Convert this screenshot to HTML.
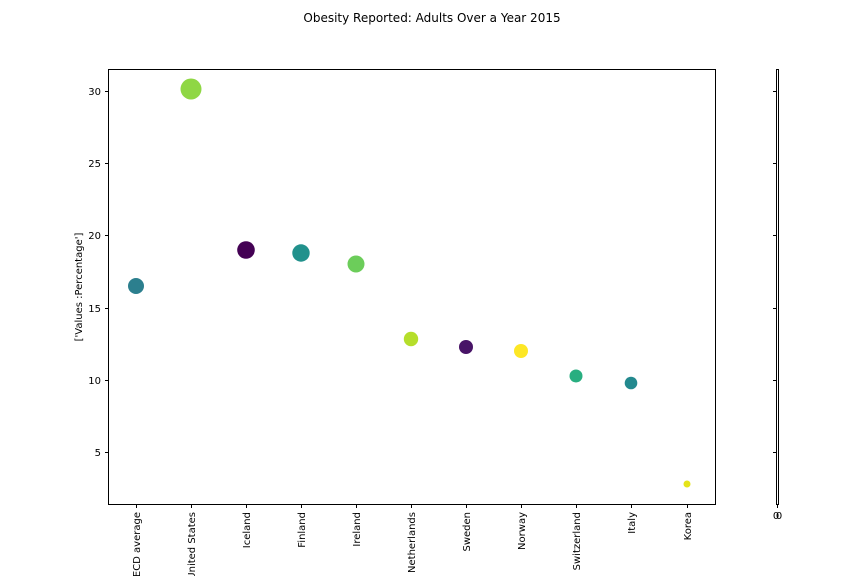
<!DOCTYPE html>
<html><head><meta charset="utf-8"><style>body{margin:0;background:#fff}svg{display:block}text{font-family:"DejaVu Sans","Liberation Sans",sans-serif;fill:#000}</style></head><body>
<svg width="864" height="576" viewBox="0 0 864 576" xmlns="http://www.w3.org/2000/svg">
<rect width="864" height="576" fill="#fff"/>
<text x="432" y="22" font-size="12" text-anchor="middle">Obesity Reported: Adults Over a Year 2015</text>
<rect x="108.5" y="69.5" width="607" height="435" fill="none" stroke="#000" stroke-width="1"/>
<g stroke="#000" stroke-width="1">
<line x1="105" y1="91.5" x2="108" y2="91.5"/><line x1="105" y1="163.5" x2="108" y2="163.5"/><line x1="105" y1="235.5" x2="108" y2="235.5"/><line x1="105" y1="308.5" x2="108" y2="308.5"/><line x1="105" y1="380.5" x2="108" y2="380.5"/><line x1="105" y1="452.5" x2="108" y2="452.5"/>
<line x1="773" y1="91.5" x2="776" y2="91.5"/><line x1="773" y1="163.5" x2="776" y2="163.5"/><line x1="773" y1="235.5" x2="776" y2="235.5"/><line x1="773" y1="308.5" x2="776" y2="308.5"/><line x1="773" y1="380.5" x2="776" y2="380.5"/><line x1="773" y1="452.5" x2="776" y2="452.5"/>
<line x1="777.5" y1="505" x2="777.5" y2="508"/>
</g>
<g stroke="#000" stroke-width="1">
<line x1="136.5" y1="505" x2="136.5" y2="508"/><line x1="191.5" y1="505" x2="191.5" y2="508"/><line x1="246.5" y1="505" x2="246.5" y2="508"/><line x1="301.5" y1="505" x2="301.5" y2="508"/><line x1="356.5" y1="505" x2="356.5" y2="508"/><line x1="411.5" y1="505" x2="411.5" y2="508"/><line x1="466.5" y1="505" x2="466.5" y2="508"/><line x1="521.5" y1="505" x2="521.5" y2="508"/><line x1="576.5" y1="505" x2="576.5" y2="508"/><line x1="631.5" y1="505" x2="631.5" y2="508"/><line x1="687.5" y1="505" x2="687.5" y2="508"/>
</g>
<rect x="776.5" y="69.5" width="2" height="435" fill="none" stroke="#000" stroke-width="1"/>
<g font-size="10" text-anchor="end">
<text x="101" y="95">30</text><text x="101" y="167">25</text><text x="101" y="239">20</text><text x="101" y="312">15</text><text x="101" y="384">10</text><text x="101" y="456">5</text>
</g>
<text x="779" y="519" font-size="10" text-anchor="middle">0</text>
<text x="776" y="519" font-size="10" text-anchor="middle">0</text>
<text transform="translate(82,287) rotate(-90)" font-size="10" text-anchor="middle">['Values :Percentage']</text>
<g font-size="10" text-anchor="end">
<text transform="translate(140,512) rotate(-90)">OECD average</text>
<text transform="translate(195,512) rotate(-90)">United States</text>
<text transform="translate(250,512) rotate(-90)">Iceland</text>
<text transform="translate(305,512) rotate(-90)">Finland</text>
<text transform="translate(360,512) rotate(-90)">Ireland</text>
<text transform="translate(415,512) rotate(-90)">Netherlands</text>
<text transform="translate(470,512) rotate(-90)">Sweden</text>
<text transform="translate(525,512) rotate(-90)">Norway</text>
<text transform="translate(580,512) rotate(-90)">Switzerland</text>
<text transform="translate(635,512) rotate(-90)">Italy</text>
<text transform="translate(691,512) rotate(-90)">Korea</text>
</g>
<circle cx="136" cy="286" r="8" fill="#2c7f8e"/>
<circle cx="191" cy="89" r="10.5" fill="#8fd744"/>
<circle cx="246" cy="250" r="8.8" fill="#440154"/>
<circle cx="301" cy="253" r="8.7" fill="#21918c"/>
<circle cx="356" cy="264" r="8.5" fill="#6ccd5a"/>
<circle cx="411" cy="339" r="7.2" fill="#b5de2b"/>
<circle cx="466" cy="347" r="7" fill="#481467"/>
<circle cx="521" cy="351" r="7" fill="#fde725"/>
<circle cx="576" cy="376" r="6.5" fill="#28ae80"/>
<circle cx="631" cy="383" r="6.3" fill="#23898e"/>
<circle cx="687" cy="484" r="3.5" fill="#e5e419"/>
</svg>
</body></html>
